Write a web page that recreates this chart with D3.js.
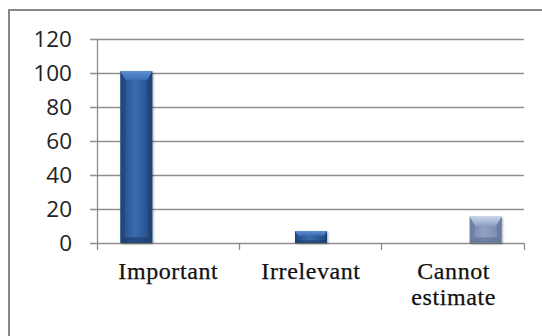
<!DOCTYPE html>
<html><head><meta charset="utf-8">
<script src="https://cdn.jsdelivr.net/npm/d3@7"></script>
<style>html,body{margin:0;padding:0;background:#fff;}svg{display:block;}</style>
</head><body>
<script>
const categories = ["Important", "Irrelevant", "Cannot estimate"];
const categoryLines = [["Important"], ["Irrelevant"], ["Cannot", "estimate"]];
const seriesNames = ["Series 1", "Series 2", "Series 3"];
const values = [101, 7, 15.5];
const yTicks = [0, 20, 40, 60, 80, 100, 120];

const W = 542, H = 336;
const svg = d3.select("body").append("svg").attr("width", W).attr("height", H);

const defs = svg.append("defs");
const palettes = [
  {dark:"#234a80", mid:"#3a6cb0", top:"#5b90d6", bottom:"#1b3a66"},
  {dark:"#234a80", mid:"#3a6cb0", top:"#5b90d6", bottom:"#1b3a66"},
  {dark:"#7486aa", mid:"#8fa2c6", top:"#c8d3e8", bottom:"#5b6c8e"}
];
palettes.forEach((p, i) => {
  const g = defs.append("linearGradient").attr("id", "g" + i).attr("x1", 0).attr("x2", 1).attr("y1", 0).attr("y2", 0);
  g.append("stop").attr("offset", "0%").attr("stop-color", p.dark);
  g.append("stop").attr("offset", "45%").attr("stop-color", p.mid);
  g.append("stop").attr("offset", "100%").attr("stop-color", p.dark);
  const t = defs.append("linearGradient").attr("id", "t" + i).attr("x1", 0).attr("x2", 0).attr("y1", 0).attr("y2", 1);
  t.append("stop").attr("offset", "0%").attr("stop-color", p.top);
  t.append("stop").attr("offset", "100%").attr("stop-color", p.mid);
});
const sh = defs.append("filter").attr("id", "shadow").attr("x", "-20%").attr("y", "-20%").attr("width", "140%").attr("height", "140%");
sh.append("feDropShadow").attr("dx", 1).attr("dy", 1).attr("stdDeviation", 1.2).attr("flood-color", "#000").attr("flood-opacity", 0.35);

// outer frame
svg.append("rect").attr("x", 9).attr("y", 10).attr("width", W + 10).attr("height", H + 10)
  .attr("fill", "#fff").attr("stroke", "#878787").attr("stroke-width", 2);

const pLeft = 97, pRight = 525, pTop = 39, pBottom = 243;
const x = d3.scaleBand().domain(categories).range([pLeft, pRight]).padding(0);
const y = d3.scaleLinear().domain([0, 120]).range([pBottom, pTop]);
const groupW = 96;
const xs = d3.scaleBand().domain(seriesNames).range([x.bandwidth()/2 - groupW/2, x.bandwidth()/2 + groupW/2]).padding(0);

// gridlines
svg.append("g").selectAll("line").data(yTicks).join("line")
  .attr("x1", pLeft - 7).attr("x2", pRight - 1)
  .attr("y1", d => Math.round(y(d)) + 0.5).attr("y2", d => Math.round(y(d)) + 0.5)
  .attr("stroke", "#8e8e8e").attr("stroke-width", 1.3);

// y axis line
svg.append("line").attr("x1", pLeft + 0.5).attr("x2", pLeft + 0.5).attr("y1", pTop).attr("y2", pBottom + 7)
  .attr("stroke", "#8e8e8e").attr("stroke-width", 1.3);
// x ticks at category boundaries
const bounds = categories.map(c => x(c)).concat([x(categories[categories.length-1]) + x.bandwidth()]);
svg.append("g").selectAll("line").data(bounds.slice(1)).join("line")
  .attr("x1", d => Math.round(d) - 0.5).attr("x2", d => Math.round(d) - 0.5)
  .attr("y1", pBottom).attr("y2", pBottom + 7)
  .attr("stroke", "#8e8e8e").attr("stroke-width", 1.3);

// y labels
svg.append("g").selectAll("text").data(yTicks).join("text")
  .attr("x", 72).attr("y", d => y(d)).attr("dy", "0.36em")
  .attr("text-anchor", "end")
  .attr("font-family", "'Open Sans', sans-serif").attr("font-size", 22.5).attr("fill", "#222")
  .text(d => d);

// bars
const bars = svg.append("g");
values.forEach((v, i) => {
  const bx = x(categories[i]) + xs(seriesNames[i]);
  const bw = xs.bandwidth();
  const by = y(v), bh = y(0) - y(v);
  const g = bars.append("g");
  g.append("rect").attr("x", bx).attr("y", by).attr("width", bw).attr("height", bh)
    .attr("fill", `url(#g${i})`).attr("filter", "url(#shadow)");
  const bev = Math.min(9, bw/3.5, bh/2.6);
  g.append("path").attr("d", `M${bx},${by}L${bx+bw},${by}L${bx+bw-bev*0.6},${by+bev}L${bx+bev*0.6},${by+bev}Z`)
    .attr("fill", `url(#t${i})`);
  g.append("path").attr("d", `M${bx},${by+bh}L${bx+bw},${by+bh}L${bx+bw-bev*0.5},${by+bh-bev*0.6}L${bx+bev*0.5},${by+bh-bev*0.6}Z`)
    .attr("fill", palettes[i].bottom).attr("opacity", 0.6);
  g.append("path").attr("d", `M${bx},${by}L${bx+bev*0.6},${by+bev}L${bx+bev*0.5},${by+bh-bev*0.6}L${bx},${by+bh}Z`)
    .attr("fill", palettes[i].bottom).attr("opacity", 0.35);
  g.append("path").attr("d", `M${bx+bw},${by}L${bx+bw-bev*0.6},${by+bev}L${bx+bw-bev*0.5},${by+bh-bev*0.6}L${bx+bw},${by+bh}Z`)
    .attr("fill", palettes[i].bottom).attr("opacity", 0.45);
});

// category labels
const lab = svg.append("g").attr("font-family", "'Liberation Serif', 'Times New Roman', serif")
  .attr("font-size", 24).attr("fill", "#111").attr("text-anchor", "middle")
  .attr("letter-spacing", 0.6).attr("stroke", "#111").attr("stroke-width", 0.25);
categoryLines.forEach((lines, i) => {
  const cx = x(categories[i]) + x.bandwidth()/2;
  const t = lab.append("text").attr("x", cx).attr("y", 279);
  lines.forEach((l, j) => t.append("tspan").attr("x", cx).attr("dy", j === 0 ? 0 : 26).text(l));
});
</script>
</body></html>
